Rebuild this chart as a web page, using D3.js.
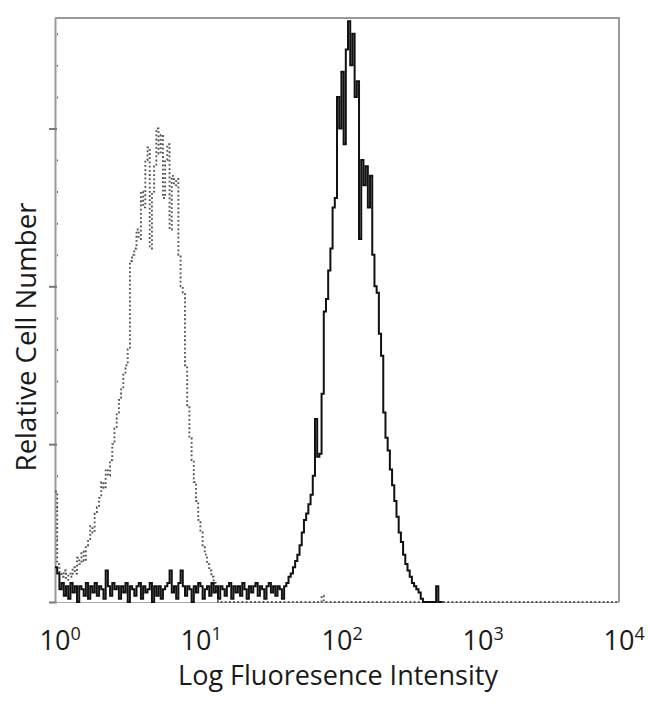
<!DOCTYPE html>
<html>
<head>
<meta charset="utf-8">
<script src="https://cdn.jsdelivr.net/npm/d3@7"></script>
<style>
  html, body { margin: 0; padding: 0; background: #fff; }
  svg { display: block; }
  text { font-family: "Open Sans", "DejaVu Sans", sans-serif; fill: #1a1a1a; }
</style>
</head>
<body>
<svg id="chart" width="650" height="704"></svg>
<script>
// ---- data ----
const channelsPerDecade = 64;          // histogram channels per log decade
const decadeTicks = [1, 10, 100, 1000, 10000];
const decadeExponents = ["0", "1", "2", "3", "4"];
const xTitle = "Log Fluoresence Intensity";
const yTitle = "Relative Cell Number";
const yMinorTicks = [10, 20, 30, 40, 60, 70, 80, 90, 110, 120, 130, 140, 160, 170, 180];
const yMajorTicks = [0, 50, 100, 150];

// stained sample (solid black), counts per channel starting at channel 0
const stainedCounts = [
  11, 9, 4, 6, 2, 5, 1, 6, 3, 5, 0, 5, 4, 2, 6, 1, 5, 3, 6, 2,
  5, 4, 1, 10, 5, 2, 6, 4, 5, 1, 5, 3, 6, 0, 5, 4, 2, 5, 6, 1,
  5, 3, 4, 6, 0, 5, 2, 5, 1, 4, 5, 6, 10, 3, 5, 1, 6, 10, 5, 2,
  5, 4, 0, 5, 3, 6, 5, 1, 4, 5, 2, 6, 3, 5, 1, 5, 4, 2, 5, 6,
  1, 5, 3, 5, 2, 6, 4, 1, 5, 3, 5, 6, 2, 5, 4, 1, 5, 6, 3, 5,
  2, 5, 4, 1, 5, 6, 8, 9, 11, 13, 15, 18, 22, 26, 28, 31, 34, 40, 58, 46,
  47, 66, 92, 96, 105, 112, 125, 128, 160, 150, 168, 145, 175, 184, 170, 180, 160, 165, 115, 140,
  132, 138, 125, 135, 110, 100, 98, 85, 78, 60, 52, 48, 42, 37, 32, 27, 22, 19, 15, 12,
  10, 8, 6, 5, 4, 3, 1, 0, 0, 0, 0, 0, 0, 5, 0, 0
];

// isotype control (dotted grey), counts per channel starting at channel 0
const controlCounts = [
  35, 12, 9, 8, 10, 7, 9, 8, 11, 9, 14, 12, 16, 13, 18, 20, 24, 22, 28, 30,
  33, 38, 36, 42, 40, 45, 50, 55, 60, 64, 68, 72, 75, 80, 108, 110, 112, 118, 115, 130,
  125, 140, 144, 112, 130, 138, 150, 142, 148, 128, 140, 145, 118, 135, 132, 134, 110, 100, 98, 75,
  62, 52, 45, 38, 32, 26, 22, 18, 15, 12, 10, 8, 6, 3, 0, 0, 0, 0, 0, 0,
  0, 0, 0, 0, 0, 0, 0, 0, 0, 0, 0, 0, 0, 0, 0, 0, 0, 0, 0, 0,
  0, 0, 0, 0, 0, 0, 0, 0, 0, 0, 0, 0, 0, 0, 0, 0, 0, 0, 0, 0,
  0, 2, 0, 0, 0, 0, 0, 0, 0, 0, 0, 0, 0, 0, 0, 0, 0, 0, 0, 0,
  0, 0, 0, 0, 0, 0, 0, 0, 0, 0, 0, 0, 0, 0, 0, 0, 0, 0, 0, 0,
  0, 0, 0, 0, 0, 0, 0, 0, 0, 0, 0, 0, 0, 0, 0, 0, 0, 0, 0, 0,
  0, 0, 0, 0, 0, 0, 0, 0, 0, 0, 0, 0, 0, 0, 0, 0, 0, 0, 0, 0,
  0, 0, 0, 0, 0, 0, 0, 0, 0, 0, 0, 0, 0, 0, 0, 0, 0, 0, 0, 0,
  0, 0, 0, 0, 0, 0, 0, 0, 0, 0, 0, 0, 0, 0, 0, 0, 0, 0, 0, 0,
  0, 0, 0, 0, 0, 0, 0, 0, 0, 0, 0, 0, 0, 0, 0, 0
];

// ---- layout ----
const plot = { left: 55, right: 619, top: 18, bottom: 602 };
const svg = d3.select("#chart");

const x = d3.scaleLog().domain([1, 10000]).range([plot.left, plot.right]);
const y = d3.scaleLinear().domain([0, 185]).range([plot.bottom, plot.top]);

function toPoints(counts) {
  const pts = counts.map((c, i) => [Math.pow(10, i / channelsPerDecade), c]);
  const last = counts.length;
  pts.push([Math.min(10000, Math.pow(10, last / channelsPerDecade)), counts[counts.length - 1]]);
  return pts;
}

const line = d3.line()
  .x(d => x(d[0]))
  .y(d => y(d[1]))
  .curve(d3.curveStepAfter);

// clip
svg.append("defs").append("clipPath").attr("id", "clip")
  .append("rect")
  .attr("x", plot.left).attr("y", plot.top - 2)
  .attr("width", plot.right - plot.left).attr("height", plot.bottom - plot.top + 3);

// frame (top & right)
svg.append("path")
  .attr("d", `M${plot.left},${plot.top}H${plot.right}V${plot.bottom}`)
  .attr("fill", "none").attr("stroke", "#9a9a9a").attr("stroke-width", 2);

// left axis (minor and major ticks)
const yAxisMinor = d3.axisLeft(y).tickValues(yMinorTicks).tickSizeInner(-3).tickSizeOuter(0).tickFormat("");
const yAxisMajor = d3.axisLeft(y).tickValues(yMajorTicks).tickSizeInner(6).tickSizeOuter(0).tickFormat("");
const gMinor = svg.append("g").attr("transform", `translate(${plot.left},0)`).call(yAxisMinor);
gMinor.select(".domain").attr("stroke", "#9a9a9a").attr("stroke-width", 2);
gMinor.selectAll(".tick line").attr("stroke", "#666").attr("stroke-width", 2).attr("x1", 2);
const gMajor = svg.append("g").attr("transform", `translate(${plot.left},0)`).call(yAxisMajor);
gMajor.select(".domain").remove();
gMajor.selectAll(".tick line").attr("stroke", "#777").attr("stroke-width", 2).attr("x1", 2);

// bottom axis
const xAxis = d3.axisBottom(x).tickValues(decadeTicks).tickSize(0).tickFormat("");
const gx = svg.append("g").attr("transform", `translate(0,${plot.bottom})`).call(xAxis);
gx.select(".domain").attr("stroke", "#a8a8a8").attr("stroke-width", 1.2);

// histograms
const gData = svg.append("g").attr("clip-path", "url(#clip)");
gData.append("path")
  .attr("d", line(toPoints(controlCounts)))
  .attr("fill", "none").attr("stroke", "#555").attr("stroke-width", 1.9)
  .attr("stroke-dasharray", "1.8,2.4");
gData.append("path")
  .attr("d", line(toPoints(stainedCounts)))
  .attr("fill", "none").attr("stroke", "#111").attr("stroke-width", 2)
  .attr("stroke-linejoin", "miter");

// tick labels with superscripts
const labelY = 650;
decadeTicks.forEach((v, i) => {
  const t = svg.append("text").attr("y", labelY).attr("font-size", 27);
  const base = t.append("tspan").text("10");
  const w = base.node().getComputedTextLength();
  t.attr("x", x(v) - w / 2);
  t.append("tspan").attr("font-size", 18).attr("dy", -10).text(decadeExponents[i]);
});

// axis titles (fitted to reference extents)
function fitText(sel, target) {
  const w = sel.node().getComputedTextLength();
  sel.attr("font-size", +sel.attr("font-size") * target / w);
}
const xt = svg.append("text")
  .attr("x", 338).attr("y", 685).attr("text-anchor", "middle")
  .attr("font-size", 24).text(xTitle);
fitText(xt, 320);

const yt = svg.append("text")
  .attr("transform", "translate(36,337) rotate(-90)")
  .attr("text-anchor", "middle").attr("font-size", 24).text(yTitle);
fitText(yt, 269);
</script>
</body>
</html>
